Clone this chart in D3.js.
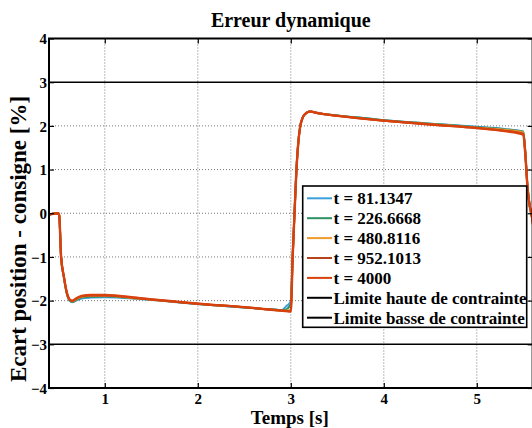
<!DOCTYPE html>
<html>
<head>
<meta charset="utf-8">
<script src="https://cdn.jsdelivr.net/npm/d3@7"></script>
<style>
  html, body { margin: 0; padding: 0; background: #fff; }
  svg { display: block; }
  text { font-family: "Liberation Serif", "Times New Roman", serif; font-weight: bold; fill: #000; }
</style>
</head>
<body>
<script>
// ---- Data ----
const title = "Erreur dynamique";
const xLabel = "Temps [s]";
const yLabel = "Ecart position - consigne [%]";
const xTicks = [1, 2, 3, 4, 5];
const yTicks = [-4, -3, -2, -1, 0, 1, 2, 3, 4];
const limits = [3, -3];
const seriesNames = ["t = 81.1347", "t = 226.6668", "t = 480.8116", "t = 952.1013", "t = 4000"];
const limitNames = ["Limite haute de contrainte", "Limite basse de contrainte"];
const time = [0.40, 0.50, 0.51, 0.53, 0.56, 0.59, 0.62, 0.65, 0.69, 0.75, 0.85, 1.00, 1.40, 2.00, 2.50, 2.85, 2.90, 2.95, 2.99, 3.00, 3.02, 3.04, 3.06, 3.08, 3.10, 3.13, 3.17, 3.21, 3.27, 3.35, 3.50, 4.00, 4.50, 5.00, 5.30, 5.50, 5.52, 5.545, 5.57, 5.59, 5.62];
const s81   = [-0.03, 0.00, -0.05, -1.00, -1.47, -1.83, -2.00, -2.04, -2.00, -1.95, -1.93, -1.92, -1.97, -2.08, -2.16, -2.21, -2.22, -2.13, -2.05, -2.00, -0.98, 0.02, 0.98, 1.61, 1.97, 2.20, 2.30, 2.33, 2.30, 2.27, 2.24, 2.13, 2.05, 1.98, 1.93, 1.87, 1.45, 0.62, 0.16, -0.04, -0.50];
const s226  = [-0.03, 0.00, -0.05, -1.00, -1.46, -1.82, -1.99, -2.03, -1.99, -1.93, -1.91, -1.90, -1.96, -2.08, -2.16, -2.21, -2.22, -2.20, -2.12, -2.08, -0.99, 0.01, 0.98, 1.61, 1.97, 2.20, 2.30, 2.33, 2.30, 2.27, 2.24, 2.13, 2.05, 1.97, 1.92, 1.86, 1.44, 0.61, 0.16, -0.04, -0.50];
const s480  = [-0.03, 0.00, -0.05, -1.00, -1.46, -1.81, -1.98, -2.02, -1.97, -1.91, -1.89, -1.89, -1.96, -2.07, -2.15, -2.22, -2.23, -2.23, -2.22, -2.20, -1.00, 0.00, 0.97, 1.60, 1.97, 2.20, 2.30, 2.33, 2.30, 2.27, 2.23, 2.12, 2.04, 1.96, 1.91, 1.85, 1.43, 0.61, 0.15, -0.05, -0.50];
const s952  = [-0.03, 0.00, -0.05, -1.00, -1.45, -1.80, -1.97, -2.01, -1.96, -1.90, -1.88, -1.88, -1.95, -2.07, -2.15, -2.22, -2.23, -2.24, -2.24, -2.24, -1.00, 0.00, 0.97, 1.60, 1.97, 2.20, 2.30, 2.33, 2.30, 2.27, 2.23, 2.12, 2.03, 1.95, 1.89, 1.82, 1.41, 0.60, 0.15, -0.05, -0.50];
const s4000 = [-0.03, 0.00, -0.05, -1.00, -1.45, -1.80, -1.97, -2.00, -1.95, -1.89, -1.87, -1.87, -1.95, -2.07, -2.15, -2.22, -2.23, -2.24, -2.25, -2.25, -1.00, 0.00, 0.97, 1.60, 1.97, 2.20, 2.30, 2.33, 2.30, 2.27, 2.23, 2.12, 2.03, 1.95, 1.88, 1.80, 1.40, 0.60, 0.15, -0.05, -0.50];
const seriesValues = [s81, s226, s480, s952, s4000];
const colors = ["#3b9fd8", "#2e8f63", "#f09a2a", "#b4441c", "#d8410e"];

// ---- Layout ----
const W = 532, H = 428;
const L = 49, R = 532.6, T = 38.5, B = 388;
const svg = d3.select("body").append("svg").attr("width", W).attr("height", H);

const x = d3.scaleLinear().domain([0.4, 5.6]).range([L, R]);
const y = d3.scaleLinear().domain([-4, 4]).range([B, T]);

svg.append("defs").append("clipPath").attr("id", "clip")
  .append("rect").attr("x", L).attr("y", T).attr("width", R - L).attr("height", B - T);

// grid
const grid = svg.append("g");
grid.selectAll(".gx").data(xTicks).enter().append("line")
  .attr("x1", d => x(d)).attr("x2", d => x(d)).attr("y1", T).attr("y2", B)
  .attr("stroke", "#777").attr("stroke-width", 1).attr("stroke-dasharray", "1,2");
grid.selectAll(".gy").data(yTicks.filter(v => limits.indexOf(v) < 0)).enter().append("line")
  .attr("x1", L).attr("x2", R).attr("y1", d => y(d)).attr("y2", d => y(d))
  .attr("stroke", "#777").attr("stroke-width", 1).attr("stroke-dasharray", "1,2");

// limit lines
svg.selectAll(".lim").data(limits).enter().append("line")
  .attr("x1", L).attr("x2", R).attr("y1", d => y(d)).attr("y2", d => y(d))
  .attr("stroke", "#000").attr("stroke-width", 1.5);

// series
const line = d3.line().x(d => x(d[0])).y(d => y(d[1])).curve(d3.curveMonotoneX);
const plot = svg.append("g").attr("clip-path", "url(#clip)");
seriesValues.forEach((vals, i) => {
  plot.append("path")
    .attr("d", line(time.map((t, k) => [t, vals[k]])))
    .attr("fill", "none").attr("stroke", colors[i])
    .attr("stroke-width", i === 4 ? 2.4 : 2).attr("stroke-linejoin", "round");
});

// axes (box with inward ticks)
const axL = svg.append("g").attr("transform", `translate(${L},0)`)
  .call(d3.axisLeft(y).tickValues(yTicks).tickSizeInner(-5).tickSizeOuter(0).tickPadding(8).tickFormat(d3.format("d")));
const axR = svg.append("g").attr("transform", `translate(${R},0)`)
  .call(d3.axisRight(y).tickValues(yTicks).tickSizeInner(-5).tickSizeOuter(0).tickFormat(""));
const axB = svg.append("g").attr("transform", `translate(0,${B})`)
  .call(d3.axisBottom(x).tickValues(xTicks).tickSizeInner(-5).tickSizeOuter(0).tickPadding(5).tickFormat(d3.format("d")));
const axT = svg.append("g").attr("transform", `translate(0,${T})`)
  .call(d3.axisTop(x).tickValues(xTicks).tickSizeInner(-5).tickSizeOuter(0).tickFormat(""));
[axL, axR, axB, axT].forEach(g => {
  g.attr("font-family", null).attr("font-size", null);
  g.select(".domain").remove();
  g.selectAll(".tick line").attr("stroke", "#000").attr("stroke-width", 1.2);
  g.selectAll("text").style("font-size", "15px").attr("fill", "#000")
    .style("font-family", '"Liberation Serif", "Times New Roman", serif').style("font-weight", "bold");
});
axL.selectAll("text").attr("x", -2).attr("dy", "0.35em");
svg.append("rect").attr("x", L).attr("y", T).attr("width", R - L).attr("height", B - T)
  .attr("fill", "none").attr("stroke", "#000").attr("stroke-width", 2);

// title & labels
svg.append("text").attr("x", (L + R) / 2).attr("y", 26.5).attr("text-anchor", "middle")
  .style("font-size", "20px").text(title);
svg.append("text").attr("x", (L + R) / 2 - 1).attr("y", 424).attr("text-anchor", "middle")
  .style("font-size", "19px").text(xLabel);
svg.append("text").attr("transform", "translate(26,239) rotate(-90)").attr("text-anchor", "middle")
  .style("font-size", "23px").text(yLabel);

// legend
const lg = svg.append("g");
lg.append("rect").attr("x", 302.7).attr("y", 186).attr("width", 224).attr("height", 141.3)
  .attr("fill", "#fff").attr("stroke", "#000").attr("stroke-width", 1.6);
const entries = seriesNames.map((n, i) => ({name: n, color: colors[i]}))
  .concat(limitNames.map(n => ({name: n, color: "#000"})));
entries.forEach((e, i) => {
  const cy = 198.3 + i * 19.9;
  lg.append("line").attr("x1", 307).attr("x2", 332).attr("y1", cy).attr("y2", cy)
    .attr("stroke", e.color).attr("stroke-width", 2);
  lg.append("text").attr("x", 333.5).attr("y", cy).attr("dy", "0.35em")
    .style("font-size", "17px").text(e.name);
});
</script>
</body>
</html>
